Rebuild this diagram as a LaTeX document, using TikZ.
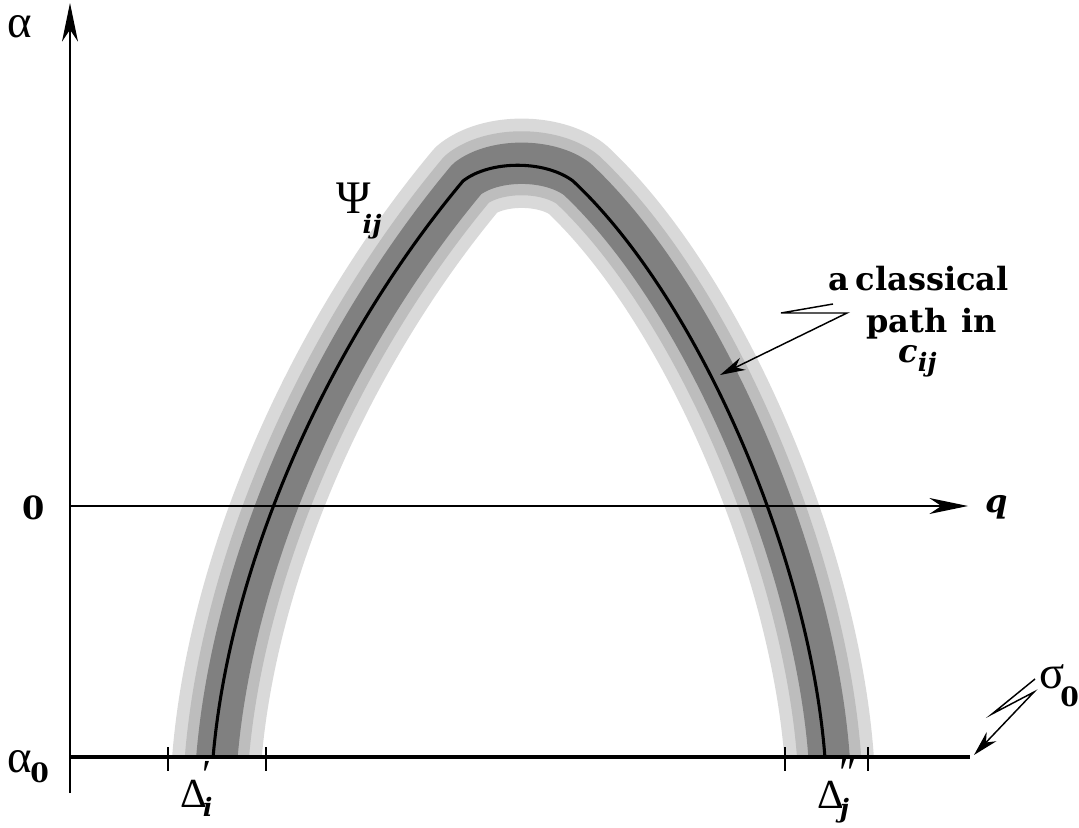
\documentclass[tikz,border=0pt]{standalone}
\usepackage{fontspec}
\setmainfont{DejaVu Serif}
\newfontfamily\grk{Liberation Serif}
\usetikzlibrary{arrows.meta}
\newcommand{\arcpath}{(210,798) -- (213,758) .. controls (230,560) and (330,340) .. (463,181) .. controls (490,160) and (545,160) .. (573,181) .. controls (700,300) and (810,560) .. (825,758) -- (828,798)}
\newcommand{\subf}{\fontsize{19}{19}\selectfont\bfseries\itshape}
\newcommand{\subz}{\fontsize{20}{20}\selectfont\bfseries\upshape}
\newcommand{\gk}{\grk\mdseries\upshape\fontsize{35}{35}\selectfont}
\newcommand{\gkb}{\grk\mdseries\upshape\fontsize{31}{31}\selectfont}
\tikzset{
  lbl/.style={inner sep=0pt, anchor=base west, font=\fontsize{24}{28}\selectfont\bfseries},
  axisline/.style={line width=1.1pt, -{Stealth[length=29pt,width=12pt,inset=9pt]}},
  leader/.style={line width=1.1pt, line join=miter, -{Stealth[length=19pt,width=10pt,inset=6pt]}},
  tickmark/.style={line width=1.1pt},
  bandlight/.style={line width=67pt, draw=black!15, line join=round},
  bandmid/.style={line width=48pt, draw=black!26, line join=round},
  banddark/.style={line width=31pt, draw=black!50, line join=round},
}
\begin{document}
\begin{tikzpicture}[x=0.75pt,y=-0.75pt]
\useasboundingbox (0,0) rectangle (1079,828);
% shaded band
\begin{scope}
  \clip (0,0) rectangle (1079,757);
  \begin{scope}[shift={(4,-2)}]
    \draw[bandlight] \arcpath;
    \draw[bandmid] \arcpath;
    \draw[banddark] \arcpath;
  \end{scope}
\end{scope}
% axes
\coordinate (vbot) at (70,793);
\coordinate (vtop) at (70,3);
\coordinate (hleft) at (70,506);
\coordinate (hright) at (968,506);
\draw[axisline] (vbot) -- (vtop);
\draw[axisline] (hleft) -- (hright);
% classical path
\draw[line width=2.3pt, line join=round] (213,758) .. controls (230,560) and (330,340) .. (463,181) .. controls (490,160) and (545,160) .. (573,181) .. controls (700,300) and (810,560) .. (825,758);
% base line sigma_0
\coordinate (b0) at (70,757);
\coordinate (b1) at (970,757);
\draw[line width=2.4pt] (b0) -- (b1);
\foreach \x in {168,266,785,868}{
  \draw[tickmark] (\x,747) -- (\x,771);
}
% labels
\node[lbl] (alpha) at (7,37) {\gk α};
\node[lbl] (zero) at (22,519) {0};
\node[lbl] (q) at (985,512) {\itshape q};
\node[lbl] (alpha0) at (7,772) {{\gk α}\kern-1pt\raisebox{-8pt}{\subz 0}};
\node[lbl] (psi) at (336,213) {{\grk\mdseries\fontsize{35}{35}\selectfont Ψ}\kern-6pt\raisebox{-15pt}{\subf ij}};
\node[lbl] (di) at (180,807) {{\gkb Δ}\kern-3pt\rlap{\raisebox{14pt}{\gkb ′}}\raisebox{-7pt}{\subf i}};
\node[lbl] (dj) at (817,808) {{\gkb Δ}\kern-3pt\rlap{\raisebox{16pt}{\gkb ″}}\raisebox{-7pt}{\subf j}};
\node[lbl] (sigma) at (1039,688) {{\gk σ}\kern-3pt\raisebox{-14pt}{\subz 0}};
\node[lbl] (cl1) at (828,290) {a\kern5pt classical};
\node[lbl] (cl2) at (866,332) {path\hspace{0.45em}in};
\node[lbl] (cl3) at (898,362) {{\itshape c}\raisebox{-7pt}{\subf ij}};
% leaders
\coordinate (l1) at (833,304);
\coordinate (l2) at (781,313);
\coordinate (l3) at (847,313);
\coordinate (l4) at (720,375);
\draw[leader] (l1) -- (l2) -- (l3) -- (l4);
\coordinate (s1) at (1035,679);
\coordinate (s2) at (992,714);
\coordinate (s3) at (1034,692);
\coordinate (s4) at (974,755);
\draw[leader] (s1) -- (s2) -- (s3) -- (s4);
\end{tikzpicture}
\end{document}
